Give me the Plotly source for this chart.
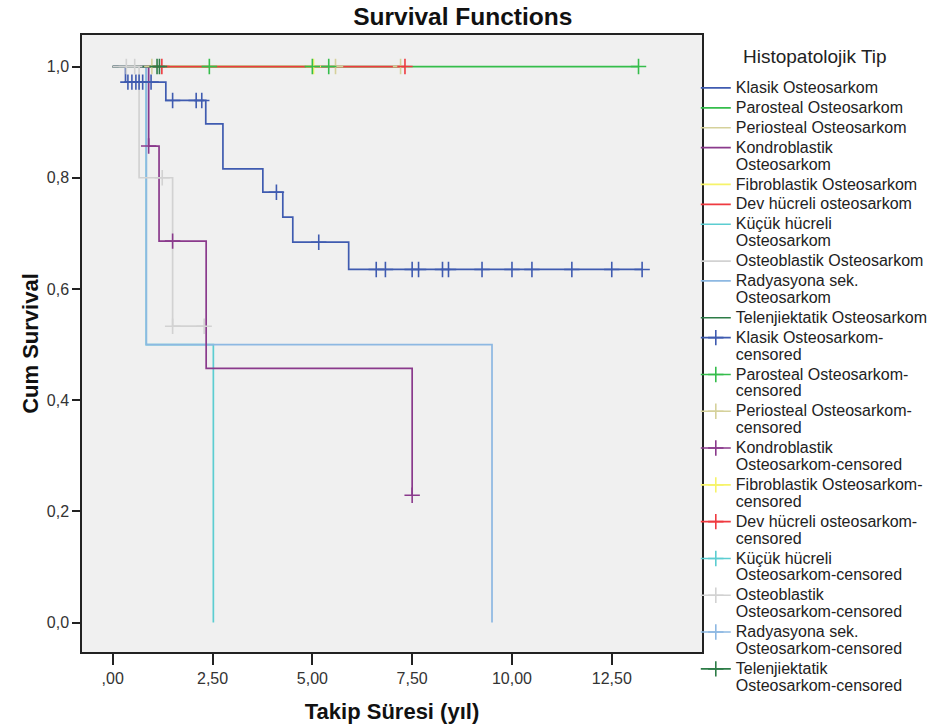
import bisect
import plotly.graph_objects as go

# Kaplan-Meier step curves per histopathological type:
# *_T = event times (years), *_S = cumulative survival after each time,
# *_END = last follow-up on the curve, *_C = censored follow-up times.
KLASIK_T = [0, 0.32, 1.33, 2.33, 2.76, 3.76, 4.26, 4.51, 5.91]
KLASIK_S = [1.0, 0.972, 0.939, 0.897, 0.816, 0.774, 0.729, 0.684, 0.635]
KLASIK_END = 13.26
KLASIK_C = [0.38, 0.48, 0.58, 0.66, 0.75, 0.96, 1.50, 2.09, 2.23, 4.10, 5.16,
            6.60, 6.83, 7.50, 7.66, 8.26, 8.41, 9.25, 10.00, 10.50, 11.50, 12.50, 13.26]

PAROSTEAL_T = [0]
PAROSTEAL_S = [1.0]
PAROSTEAL_END = 13.17
PAROSTEAL_C = [2.42, 5.00, 5.41, 13.17]

PERIOSTEAL_T = [0]
PERIOSTEAL_S = [1.0]
PERIOSTEAL_END = 7.21
PERIOSTEAL_C = [0.98, 5.58, 7.21]

KONDRO_T = [0, 0.90, 1.16, 2.34, 7.50]
KONDRO_S = [1.0, 0.857, 0.686, 0.457, 0.229]
KONDRO_END = 7.50
KONDRO_C = [0.90, 1.50, 7.50]

FIBRO_T = [0]
FIBRO_S = [1.0]
FIBRO_END = 5.03
FIBRO_C = [5.03]

DEV_T = [0]
DEV_S = [1.0]
DEV_END = 7.32
DEV_C = [1.23, 7.32]

KUCUK_T = [0, 0.84, 2.52]
KUCUK_S = [1.0, 0.5, 0.0]
KUCUK_END = 2.52
KUCUK_C = []

OSTEOBL_T = [0, 0.66, 1.50]
OSTEOBL_S = [1.0, 0.8, 0.533]
OSTEOBL_END = 2.29
OSTEOBL_C = [0.34, 0.55, 1.24, 1.50, 2.29]

RADYASYON_T = [0, 0.84, 9.50]
RADYASYON_S = [1.0, 0.5, 0.0]
RADYASYON_END = 9.50
RADYASYON_C = []

TELEN_T = [0]
TELEN_S = [1.0]
TELEN_END = 1.17
TELEN_C = [1.11, 1.17]

GROUP_NAMES = [
    "Klasik Osteosarkom", "Parosteal Osteosarkom", "Periosteal Osteosarkom",
    "Kondroblastik<br>Osteosarkom", "Fibroblastik Osteosarkom",
    "Dev hücreli osteosarkom", "Küçük hücreli<br>Osteosarkom",
    "Osteoblastik Osteosarkom", "Radyasyona sek.<br>Osteosarkom",
    "Telenjiektatik Osteosarkom",
]
CENSORED_NAMES = [
    "Klasik Osteosarkom-<br>censored", "Parosteal Osteosarkom-<br>censored",
    "Periosteal Osteosarkom-<br>censored", "Kondroblastik<br>Osteosarkom-censored",
    "Fibroblastik Osteosarkom-<br>censored", "Dev hücreli osteosarkom-<br>censored",
    "Küçük hücreli<br>Osteosarkom-censored", "Osteoblastik<br>Osteosarkom-censored",
    "Radyasyona sek.<br>Osteosarkom-censored", "Telenjiektatik<br>Osteosarkom-censored",
]
LEGEND_TITLE = "Histopatolojik Tip"
COLORS = ["#3f5bb0", "#35bd4b", "#d5d19b", "#8a3a8c", "#f6f36a",
          "#ef3a40", "#5ccdd1", "#d2d2d2", "#8db8e2", "#2d7c47"]

X_TICKS = [0, 2.5, 5, 7.5, 10, 12.5]
X_TICK_TEXT = [",00", "2,50", "5,00", "7,50", "10,00", "12,50"]
Y_TICKS = [0.0, 0.2, 0.4, 0.6, 0.8, 1.0]

curves = [
    (KLASIK_T, KLASIK_S, KLASIK_END, KLASIK_C),
    (PAROSTEAL_T, PAROSTEAL_S, PAROSTEAL_END, PAROSTEAL_C),
    (PERIOSTEAL_T, PERIOSTEAL_S, PERIOSTEAL_END, PERIOSTEAL_C),
    (KONDRO_T, KONDRO_S, KONDRO_END, KONDRO_C),
    (FIBRO_T, FIBRO_S, FIBRO_END, FIBRO_C),
    (DEV_T, DEV_S, DEV_END, DEV_C),
    (KUCUK_T, KUCUK_S, KUCUK_END, KUCUK_C),
    (OSTEOBL_T, OSTEOBL_S, OSTEOBL_END, OSTEOBL_C),
    (RADYASYON_T, RADYASYON_S, RADYASYON_END, RADYASYON_C),
    (TELEN_T, TELEN_S, TELEN_END, TELEN_C),
]

# stacking order of the step lines (later = on top)
DRAW_ORDER = [2, 4, 1, 5, 0, 6, 8, 3, 9, 7]

FONT = "Arial, Liberation Sans, sans-serif"


def surv_at(times, surv, t):
    return surv[bisect.bisect_right(times, t) - 1]


def legend_label(text):
    return '<span style="font-size:16px">' + text + "</span>"


fig = go.Figure()

for i in DRAW_ORDER:
    t, s, end, _ = curves[i]
    fig.add_trace(go.Scatter(
        x=t + [end], y=s + [s[-1]], mode="lines", line_shape="hv",
        line=dict(color=COLORS[i], width=1.7),
        name=legend_label(GROUP_NAMES[i]), legendrank=i + 1,
    ))

for i in DRAW_ORDER:
    t, s, _, cens = curves[i]
    xs, ys = [], []
    for c in cens:
        xs += [c, None]
        ys += [surv_at(t, s, c), None]
    if not xs:
        xs, ys = [None], [None]
    fig.add_trace(go.Scatter(
        x=xs, y=ys, mode="lines+markers", connectgaps=False,
        line=dict(color=COLORS[i], width=1.6),
        marker=dict(symbol="cross-thin", size=11,
                    line=dict(color=COLORS[i], width=1.6)),
        name=legend_label(CENSORED_NAMES[i]), legendrank=11 + i,
    ))

fig.update_layout(
    width=933, height=728,
    margin=dict(l=82, r=231, t=35, b=76, autoexpand=False),
    paper_bgcolor="white", plot_bgcolor="#f0f0f0",
    separators=",.",
    font=dict(family=FONT, color="#222"),
    title=dict(text="<b>Survival Functions</b>", x=0.496, xref="container",
               xanchor="center", y=1 - 16 / 728, yref="container",
               yanchor="middle", font=dict(size=24.5, color="#111")),
    showlegend=True,
    legend=dict(
        x=0.99, xanchor="left", y=1 - 73 / 728, yref="container", yanchor="top",
        maxheight=700,
        font=dict(size=13, family=FONT, color="#222"),
        tracegroupgap=0, itemwidth=30, valign="top",
        bgcolor="rgba(0,0,0,0)",
    ),
    annotations=[dict(
        text=LEGEND_TITLE, xref="paper", yref="paper",
        x=(815 - 82) / 620, y=(652 - 56) / 617,
        xanchor="center", yanchor="middle", showarrow=False,
        font=dict(size=19, family=FONT, color="#222"),
    )],
)

fig.update_xaxes(
    range=[-0.77, 14.76], tickvals=X_TICKS, ticktext=X_TICK_TEXT,
    ticks="outside", ticklen=11, tickwidth=1.5, tickcolor="#222",
    showline=True, linecolor="#222", linewidth=1.5, mirror=True,
    showgrid=False, zeroline=False,
    tickfont=dict(size=16, color="#333"),
    title=dict(text="<b>Takip Süresi (yıl)</b>", font=dict(size=22, color="#111"),
               standoff=18),
)
fig.update_yaxes(
    range=[-0.053, 1.0567], tickvals=Y_TICKS, tickformat=".1f",
    ticks="outside", ticklen=8, tickwidth=1.5, tickcolor="#222",
    showline=True, linecolor="#222", linewidth=1.5, mirror=True,
    showgrid=False, zeroline=False,
    tickfont=dict(size=16, color="#333"),
    title=dict(text="<b>Cum Survival</b>", font=dict(size=22, color="#111"),
               standoff=2),
)

fig.write_html("out.html")
